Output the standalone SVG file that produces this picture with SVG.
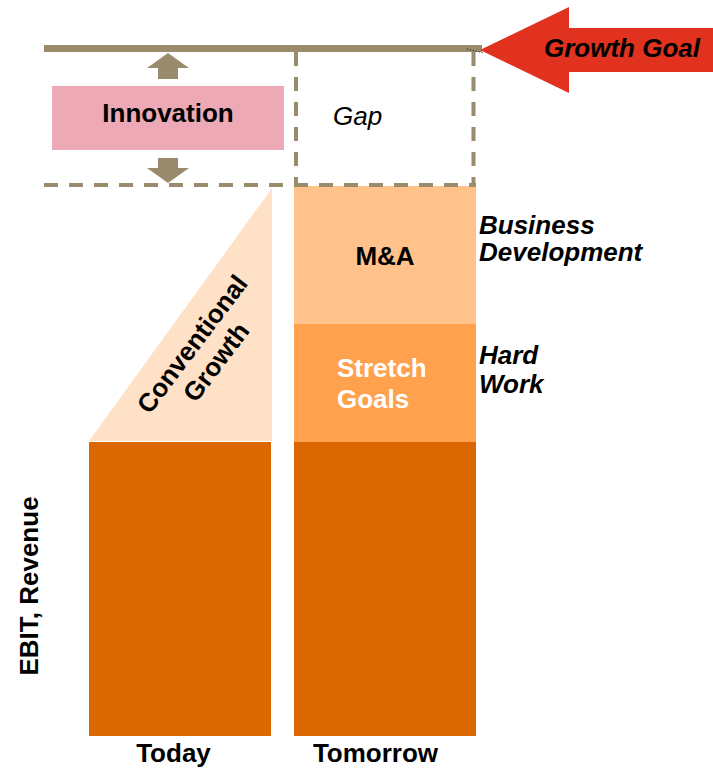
<svg xmlns="http://www.w3.org/2000/svg" width="713" height="769" viewBox="0 0 713 769">
<style>
text{font-family:"Liberation Sans",Arial,sans-serif;font-size:26px;font-weight:bold;fill:#000}
.it{font-style:italic}
.reg{font-weight:normal}
.dash{stroke:#9A8B6C;stroke-width:4;stroke-dasharray:14 11;fill:none}
.olive{fill:#9A8B6C}
</style>
<rect width="713" height="769" fill="#fff"/>
<g id="bar-today"><rect x="89" y="442" width="182" height="294" fill="#DB6700"/></g>
<g id="conventional-growth">
<polygon points="89,441 272,188 272,441" fill="#FEE1C6"/>
<g transform="translate(204,353) rotate(-53)">
<text x="0" y="-6" text-anchor="middle">Conventional</text>
<text x="0" y="24" text-anchor="middle">Growth</text>
</g>
</g>
<g id="bar-tomorrow"><rect x="294" y="442" width="182" height="294" fill="#DB6700"/></g>
<g id="stretch-goals"><rect x="294" y="324" width="182" height="118" fill="#FFA14D"/>
<text style="fill:#fff"><tspan x="337" y="377">Stretch</tspan><tspan x="337" y="408">Goals</tspan></text></g>
<g id="ma"><rect x="294" y="186" width="182" height="138" fill="#FFC28A"/>
<text x="385" y="265" text-anchor="middle">M&amp;A</text></g>
<g id="innovation"><rect x="52" y="86" width="232" height="64" fill="#EDAAB6"/>
<text x="168" y="122" text-anchor="middle">Innovation</text></g>
<g id="connectors">
<line x1="44" y1="48.5" x2="482" y2="48.5" stroke="#9A8B6C" stroke-width="7"/>
<line x1="467" y1="49" x2="484" y2="53" stroke="#000" stroke-width="1" stroke-dasharray="1 2"/>
<line x1="44" y1="185" x2="476" y2="185" class="dash"/>
<line x1="296" y1="52" x2="296" y2="185" class="dash"/>
<line x1="473.5" y1="52" x2="473.5" y2="185" class="dash"/>
<polygon class="olive" points="168,53 189,68 178,68 178,79 158,79 158,68 147,68"/>
<polygon class="olive" points="158,158 178,158 178,168 189,168 168,183 147,168 158,168"/>
</g>
<g id="gap"><text x="333" y="125" class="it reg">Gap</text></g>
<g id="growth-goal"><polygon points="480,50 569,7 569,28 713,28 713,72 569,72 569,93" fill="#E0321E"/>
<text x="544" y="57" class="it">Growth Goal</text></g>
<g id="labels">
<text class="it"><tspan x="479" y="234">Business</tspan><tspan x="479" y="261">Development</tspan></text>
<text class="it"><tspan x="479" y="364">Hard</tspan><tspan x="479" y="393">Work</tspan></text>
<text transform="translate(38,586) rotate(-90)" text-anchor="middle">EBIT, Revenue</text>
<text x="173.5" y="762" text-anchor="middle">Today</text>
<text x="375.5" y="762" text-anchor="middle">Tomorrow</text>
</g>
</svg>
